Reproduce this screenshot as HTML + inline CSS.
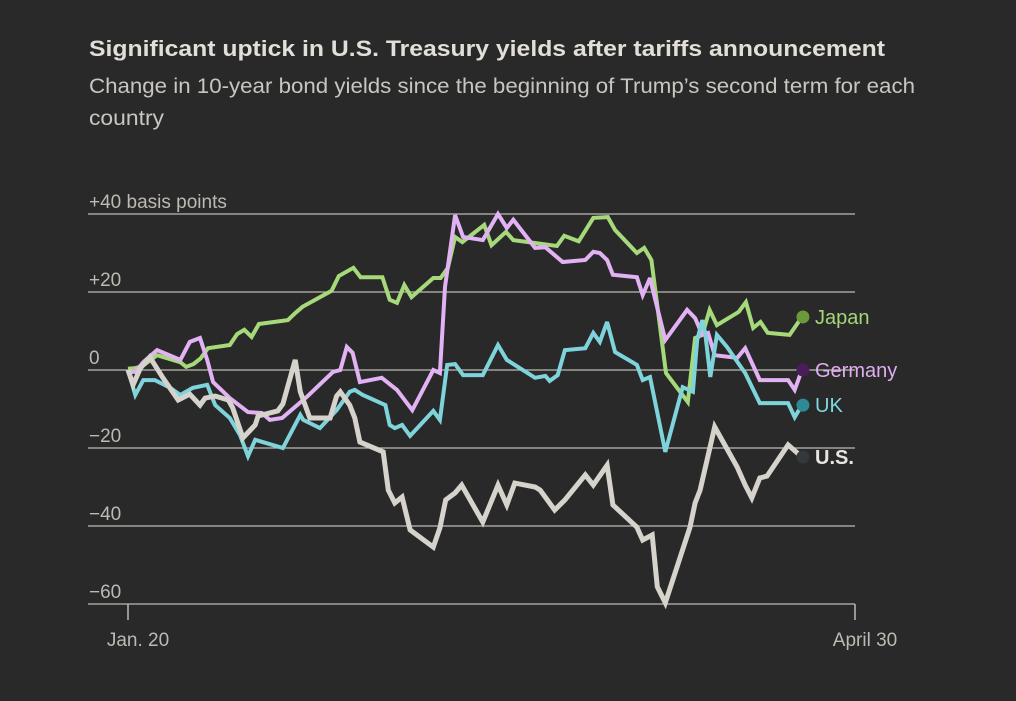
<!DOCTYPE html>
<html><head><meta charset="utf-8"><style>
body{margin:0;background:#282928;width:1016px;height:701px;overflow:hidden;font-family:"Liberation Sans",sans-serif}
</style></head><body>
<svg width="1016" height="701" style="position:absolute;left:0;top:0">
<rect width="1016" height="701" fill="#282928"/>
<text x="89" y="56" font-size="22" font-weight="bold" fill="#e2ded8" textLength="796" lengthAdjust="spacingAndGlyphs">Significant uptick in U.S. Treasury yields after tariffs announcement</text>
<text x="89" y="93" font-size="21" fill="#c9c6c0" textLength="826" lengthAdjust="spacingAndGlyphs">Change in 10-year bond yields since the beginning of Trump’s second term for each</text>
<text x="89" y="125" font-size="21" fill="#c9c6c0" textLength="75" lengthAdjust="spacingAndGlyphs">country</text>
<g id="grid"></g><g id="lines"></g><g id="legend"></g>
</svg>
<script>
const yTicks=[40,20,0,-20,-40,-60];
const yTickLabels=["+40 basis points","+20","0","\u221220","\u221240","\u221260"];
const xTickDays=[0,100];
const xTickLabels=["Jan. 20","April 30"];
const japanDays=[0,1,2,4,7.2,8,9,10,11,14,15,16,17,18,22,23,24,28,29,31,32,35,36,37,38,39,42,43,44,45,46,49,50,52,53,57,59,60,62,64,66,67,70,71,72,74,77,78,79,80,81,84,85,86,87,88,91,92.7];
const japanVals=[0.3,0.5,1,3.8,2,0.8,1.5,3,5.6,6.4,9.2,10.3,8.5,11.8,12.8,14.6,16.2,20.3,24.1,26.2,23.8,23.8,18,17.2,21.8,18.7,23.6,23.6,26.2,34.1,32.8,37.2,32,35.4,33.3,32.3,31.8,34.4,33,39,39.2,35.9,30,31.3,28.2,-0.8,-8.2,8.2,9,15.4,11.5,14.9,17.4,10.8,12.3,9.5,9,13.6];
const germanyDays=[0,1,2.1,4,7.2,8.5,9.9,10.9,11.7,14,16.5,18.4,19.5,21.2,24.6,28.2,29.2,30.1,30.9,31.9,34.9,37,39.1,42,42.9,43.6,45,46.1,48.8,50.9,52.1,53,56,57.4,59.8,62.9,64,64.9,65.9,66.7,70,70.8,71.8,72.2,73.9,76.9,78,79,79.8,80.7,83.8,84.9,86.9,90.8,91.7,92.7];
const germanyVals=[-0.5,-0.5,2,5.1,2.6,7.2,8.2,2.6,-3.1,-7.2,-10.8,-11,-12.8,-12.3,-6.9,-0.5,0,5.9,4.4,-3.1,-2,-5.1,-10.3,0,-0.8,21.3,39.7,34.1,33.3,40,36.4,38.5,31.3,31.5,27.7,28.2,30.3,30,28.2,24.4,23.8,19.2,23.6,20.5,7.7,15.4,13.3,9,9.5,3.8,3.1,5.6,-2.6,-2.6,-5.1,0];
const ukDays=[0,1,2.1,3.7,5.8,7.2,8.9,10.9,12,14,15.4,16.5,17.5,21.3,23.7,24.1,26.4,28.7,30.5,31.2,32.3,35.4,36,36.7,37.7,38.8,42,42.9,43.9,45,46.1,48.8,50.9,52.1,56,57.4,58,59.1,60.1,62.9,64,64.9,65.9,67,70,70.8,71.8,73.9,76.3,77.7,78.3,79,79.4,80.1,81,82.4,84.9,86.9,90.8,91.7,92.7];
const ukVals=[0,-6.4,-2.6,-2.6,-4.6,-6.4,-4.6,-3.8,-9,-12.3,-16.7,-22.1,-17.9,-20,-11.5,-12.8,-14.9,-10.3,-5.6,-5.1,-6.4,-9,-14.1,-14.9,-14.1,-16.9,-10.5,-12.8,1.3,1.5,-1.3,-1.3,6.4,2.6,-2,-1.5,-2.8,-1.3,5.1,5.6,9.5,7.2,12.3,4.6,1.3,-2.6,-1.8,-21,-4.4,-5.6,7.7,12.8,9.5,-1.8,9,5.9,-0.8,-8.5,-8.5,-12.1,-9];
const usDays=[0,0.7,1.7,3,4.8,6.9,8.5,9.9,10.6,12,13.8,14.4,15.8,17.5,17.9,20.6,21.3,22,23,23.7,25,27.8,28.7,29.2,30.5,31.2,31.9,35.1,35.8,36.7,37.7,38.8,42,42.9,43.7,45,45.9,48.8,50.9,52.1,53.2,56,56.7,58.7,60.1,62.9,64,65.9,66.7,70,70.8,72.1,72.8,73.9,77.3,78,78.7,80.7,83.8,84.9,85.8,86.9,87.9,90.8,92.7];
const usVals=[0,-3.8,0.5,3.3,-2,-7.7,-6.2,-9,-7.2,-6.7,-7.7,-9.7,-17.4,-14.1,-11.8,-10.5,-8.7,-4.1,2.6,-5.6,-12.3,-12.3,-6.7,-5.6,-9,-12.3,-18.5,-21,-30.8,-34.1,-32.6,-41,-45.4,-40.5,-33.3,-31.5,-29.5,-39,-29.5,-34.6,-29,-30,-30.8,-35.9,-33.3,-26.9,-29.5,-24.4,-34.6,-40.3,-43.6,-42.3,-55.6,-59.7,-40.3,-34.1,-30.8,-14.6,-24.9,-29.5,-32.8,-27.7,-27.2,-19.2,-22.3];
const seriesNames=["Japan","Germany","UK","U.S."];

const NS="http://www.w3.org/2000/svg";
const xS=d=>128+d*7.27;
const yS=v=>370-v*3.9;
function mk(t,a,p){const e=document.createElementNS(NS,t);for(const k in a)e.setAttribute(k,a[k]);p.appendChild(e);return e;}
const grid=document.getElementById('grid');
yTicks.forEach((t,i)=>{
  const l=mk('line',{x1:88,x2:855,y1:yS(t),y2:yS(t),stroke:'#bdbab5','stroke-width':1.2},grid);
  
  
  const tx=mk('text',{x:89,y:yS(t)-6,'font-size':19,fill:'#bdb9b3'},grid);
  tx.textContent=yTickLabels[i];
  
  
});
xTickDays.forEach((d,i)=>{
  const l=mk('line',{x1:xS(d),x2:xS(d),y1:604,y2:620,stroke:'#bdbab5','stroke-width':1.5},grid);
  
  
  const tx=mk('text',{x:xS(d)+10,y:646,'font-size':19,fill:'#bdb9b3','text-anchor':'middle'},grid);
  tx.textContent=xTickLabels[i];
  
  
});
const lines=document.getElementById('lines');
const defs=[[japanDays,japanVals,'#a5d97a',4,'japan-line'],[germanyDays,germanyVals,'#e2b2f4',4,'germany-line'],[ukDays,ukVals,'#7fd4dc',4,'uk-line'],[usDays,usVals,'#d6d2cc',5,'us-line']];
defs.forEach(s=>{
  const pts=s[0].map((d,i)=>xS(d).toFixed(1)+','+yS(s[1][i]).toFixed(1)).join(' ');
  const p=mk('polyline',{points:pts,fill:'none',stroke:s[2],'stroke-width':s[3],'stroke-linejoin':'miter','stroke-miterlimit':3},lines);
  
  
});
const legend=document.getElementById('legend');
const dotCols=['#6a9a3a','#4a1c5c','#2e8a94','#34383a'];
const labCols=['#a6d67a','#e0aef0','#7dd8e0','#e8e5e0'];
const allD=[japanDays,germanyDays,ukDays,usDays],allV=[japanVals,germanyVals,ukVals,usVals];
seriesNames.forEach((n,i)=>{
  const d=allD[i][allD[i].length-1],v=allV[i][allV[i].length-1];
  const c=mk('circle',{cx:xS(d)+1,cy:yS(v),r:6.5,fill:dotCols[i]},legend);
  
  
  const t=mk('text',{x:815,y:yS(v)+7,'font-size':20,fill:labCols[i],'font-weight':i==3?'bold':'normal'},legend);
  t.textContent=n;
  
  
});
</script>
</body></html>
